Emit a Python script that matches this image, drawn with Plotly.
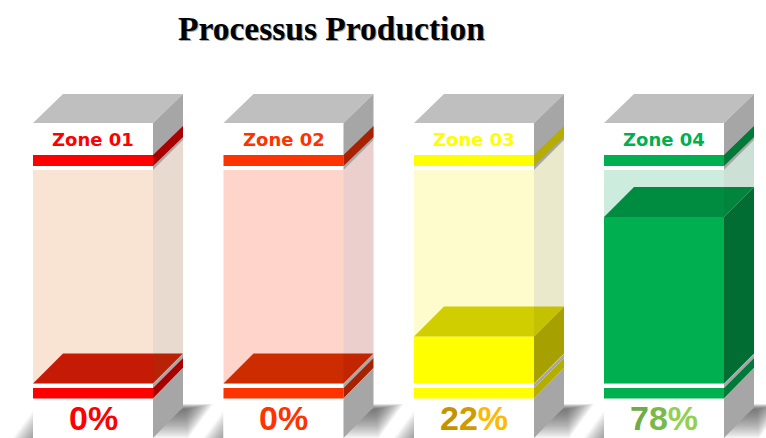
import plotly.graph_objects as go

title = "Processus Production"
zones = ["Zone 01", "Zone 02", "Zone 03", "Zone 04"]
values = [0, 0, 22, 78]
band_colors = ["#FF0000", "#FF3300", "#FFFF00", "#00B050"]
band_dark = ["#A80000", "#A82200", "#B5AD00", "#007A38"]
glass_front = ["#F9E4D4", "#FFD4CA", "#FEFCCD", "#CCEDDD"]
glass_side = ["rgba(140,70,15,0.2)", "rgba(155,15,0,0.2)", "rgba(150,145,0,0.2)", "rgba(5,100,45,0.2)"]
top_colors = ["#C41A06", "#CC2C00", "#D0CE00", "#008C40"]
side_colors = ["#A80000", "#A82200", "#AAA500", "#007034"]
label_colors = [["#FF0000"] * 2, ["#FF3300"] * 2,
                ["#C59300", "#D09A00", "#FFB900"], ["#6FAB47", "#7AB84C", "#92D050"]]

W, H = 766, 438
LEFTS = [33, 223.5, 414, 604]
BW, DX = 120, 30
PX0, PXU = 383.5, 2.135   # pixel of value 0, pixels per value unit
DV = DX / PXU


def poly(xs, ys, color, layer="below"):
    path = "M" + "L".join(f"{x:.2f},{y:.2f}" for x, y in zip(xs, ys)) + "Z"
    return dict(type="path", path=path, xref="x", yref="y2", fillcolor=color,
                line=dict(width=0), layer=layer)


shapes = []
N = 16
for i, l in enumerate(LEFTS):
    r = l + BW
    s = r + DX
    # ground shadow, right of the box: soft, fading towards the lower right
    for k in range(N):
        t = (k + 1) / N
        yb = 409 + 29 * t
        xb = s - (yb - 407)
        top = 409 - 5 * t
        shapes.append(poly([s, s + 3 + 27 * t, xb + 4 + 32 * t, xb],
                           [top, top, yb, yb], "rgba(50,50,50,0.06)"))
    # ground shadow, left of the box
    for k in range(N):
        t = (k + 1) / N
        shapes.append(poly([l, l, l - 20 * t], [H, H - 27 * t, H], "rgba(60,60,60,0.036)"))

for i, l in enumerate(LEFTS):
    r = l + BW
    s = r + DX
    # white box face that hides the shadow of the neighbour
    shapes.append(poly([l, r, r, l], [123, 123, H, H], "#FFFFFF"))
    # lid
    shapes.append(poly([l, l + DX, s, r], [123, 94, 94, 123], "#BFBFBF"))
    shapes.append(poly([r, s, s, r], [123, 94, 140, 170], "#A6A6A6"))
    # upper band
    shapes.append(poly([l, r, r, l], [155, 155, 166, 166], band_colors[i]))
    shapes.append(poly([r, s, s, r], [155, 126, 137, 166], band_dark[i]))
    # glass
    shapes.append(poly([l, r, r, l], [170, 170, 383.5, 383.5], glass_front[i]))
    # base
    shapes.append(poly([r, s, s, r], [384, 354, 358, 388], "#A6A6A6"))
    shapes.append(poly([l, r, r, l], [388, 388, 398.5, 398.5], band_colors[i]))
    shapes.append(poly([r, s, s, r], [388, 358, 368, 398.5], band_dark[i]))
    shapes.append(poly([r, s, s, r], [398.5, 368, 407, H], "#A6A6A6"))
    # glass side, over the fill
    shapes.append(poly([r, s, s, r], [170, 140, 354, 384], glass_side[i], layer="above"))

fig = go.Figure()
# Front of each fill
fig.add_trace(go.Bar(x=[l + BW / 2 for l in LEFTS], y=values, width=BW,
                     marker=dict(color=band_colors, line=dict(width=0)),
                     hoverinfo="skip", showlegend=False))
# Side and top of each fill
for i, (l, v) in enumerate(zip(LEFTS, values)):
    r = l + BW
    fig.add_trace(go.Scatter(x=[r, r + DX, r + DX, r, r], y=[0, DV, v + DV, v, 0],
                             mode="lines", fill="toself", fillcolor=side_colors[i],
                             line=dict(width=0), hoverinfo="skip", showlegend=False))
    fig.add_trace(go.Scatter(x=[l, l + DX, r + DX, r, l], y=[v, v + DV, v + DV, v, v],
                             mode="lines", fill="toself", fillcolor=top_colors[i],
                             line=dict(width=0), hoverinfo="skip", showlegend=False))

annotations = []
for i, l in enumerate(LEFTS):
    cx = l + BW / 2
    annotations.append(dict(x=cx, y=139.2, xref="x", yref="y2", text=f"<b>{zones[i]}</b>",
                            showarrow=False, font=dict(family="DejaVu Sans", size=18, color=band_colors[i])))
    label = f"{values[i]}%"
    cols = label_colors[i]
    parts = "".join(f'<span style="color:{cols[j] if j < len(cols) else cols[-1]}">{ch}</span>'
                    for j, ch in enumerate(label))
    annotations.append(dict(x=cx, y=418, xref="x", yref="y2", text=f"<b>{parts}</b>",
                            showarrow=False, font=dict(family="Liberation Sans", size=34, color=cols[0])))
for dx, dy, col in [(1.2, 1.2, "#A6A6A6"), (0, 0, "#000000")]:
    annotations.append(dict(x=331.5 + dx, y=28 + dy, xref="x", yref="y2", text=f"<b>{title}</b>",
                            showarrow=False, font=dict(family="Liberation Serif", size=33.5, color=col)))

fig.update_layout(
    width=W, height=H, autosize=False, margin=dict(l=0, r=0, t=0, b=0),
    paper_bgcolor="#FFFFFF", plot_bgcolor="#FFFFFF", barmode="overlay",
    showlegend=False, shapes=shapes, annotations=annotations,
    xaxis=dict(range=[0, W], visible=False, fixedrange=True),
    yaxis=dict(range=[-(H - PX0) / PXU, PX0 / PXU], visible=False, fixedrange=True),
    yaxis2=dict(range=[H, 0], overlaying="y", visible=False, fixedrange=True),
)
# Empty trace so the pixel axis is live for shapes and annotations
fig.add_trace(go.Scatter(x=[None], y=[None], yaxis="y2", hoverinfo="skip", showlegend=False))

fig.write_html("out.html", config={"displayModeBar": False},
               post_script="document.body.style.margin='0';")
